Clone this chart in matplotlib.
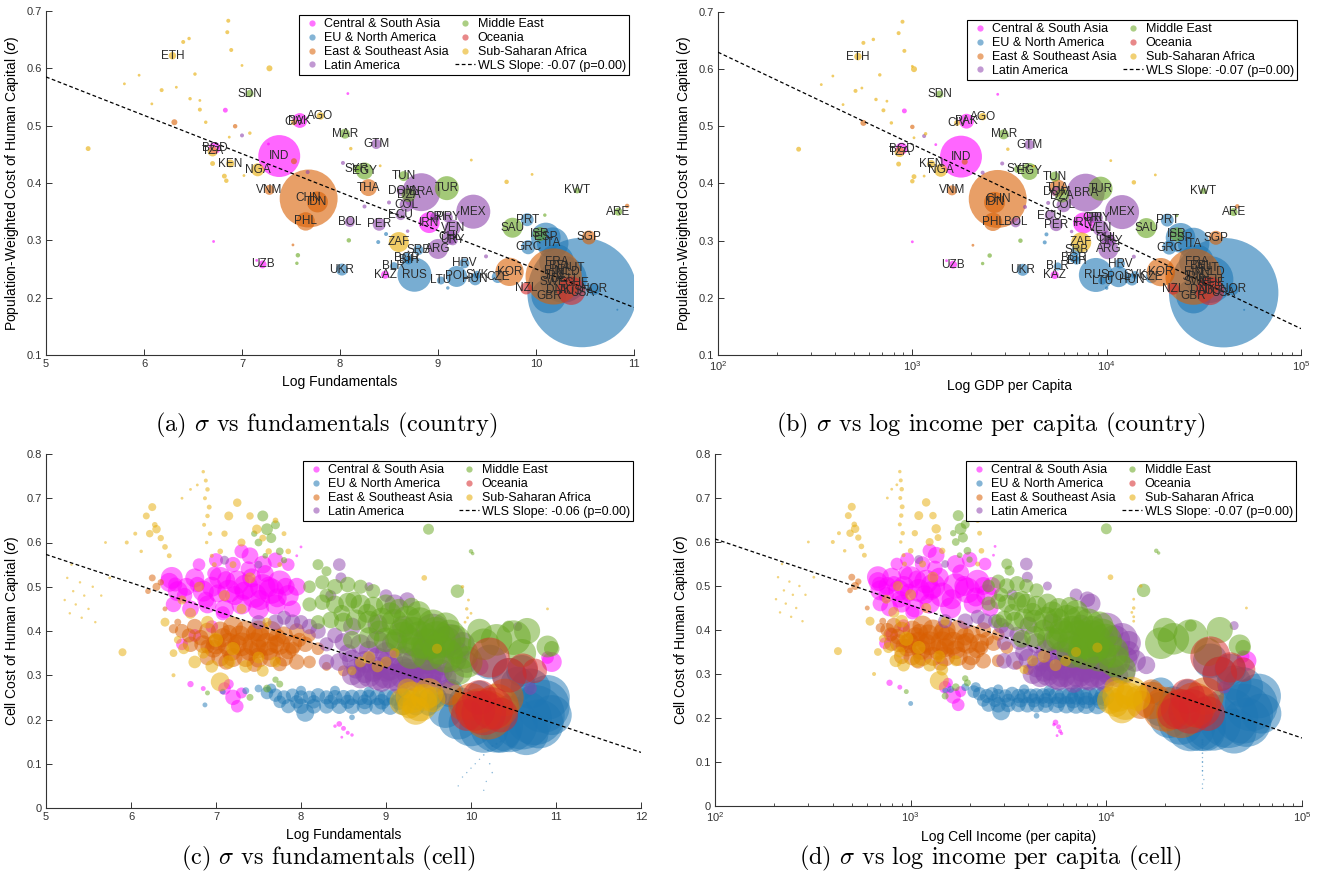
import matplotlib
matplotlib.use("Agg")
import matplotlib.pyplot as plt
from matplotlib.lines import Line2D
from matplotlib.ticker import FormatStrFormatter
import numpy as np

plt.rcParams['font.family'] = ['Liberation Sans', 'DejaVu Sans']

REGIONS = ["Central & South Asia", "EU & North America", "East & Southeast Asia",
           "Latin America", "Middle East", "Oceania", "Sub-Saharan Africa"]
REGION_COLORS = ["#ff00ff", "#1f77b4", "#d95f02", "#8e44ad", "#66a61e", "#d62728", "#e6ab02"]

# ---------------- country level data: (code, log fundamentals, GDP per capita, sigma, weight)
countries_csa = [("PAK", 7.59, 1900, 0.509, 55), ("BGD", 6.72, 880, 0.461, 36), ("IND", 7.38, 1780, 0.447, 440),
                 ("IRN", 8.91, 7600, 0.331, 110), ("KAZ", 8.46, 5400, 0.240, 16), ("UZB", 7.21, 1620, 0.258, 16)]
countries_euna = [("PRT", 9.91, 20500, 0.336, 42), ("ESP", 10.10, 24000, 0.305, 220), ("SRB", 8.80, 7000, 0.283, 25),
                  ("BGR", 8.68, 6800, 0.270, 25), ("BIH", 8.70, 7000, 0.265, 16), ("BLR", 8.55, 5600, 0.255, 16),
                  ("RUS", 8.76, 8800, 0.240, 290), ("UKR", 8.02, 3700, 0.249, 36), ("HRV", 9.27, 11700, 0.260, 25),
                  ("LTU", 9.03, 9500, 0.230, 16), ("POL", 9.19, 11500, 0.237, 110), ("SVK", 9.40, 14000, 0.240, 16),
                  ("HUN", 9.38, 13500, 0.232, 36), ("CZE", 9.61, 17000, 0.236, 36), ("GRC", 9.92, 21000, 0.288, 50),
                  ("ITA", 10.17, 28000, 0.295, 250), ("FRA", 10.21, 29000, 0.263, 300), ("BEL", 10.25, 30500, 0.255, 49),
                  ("AUT", 10.38, 33000, 0.252, 49), ("FIN", 10.18, 28000, 0.246, 36), ("NLD", 10.32, 35000, 0.245, 100),
                  ("DEU", 10.28, 34000, 0.232, 550), ("SWE", 10.17, 29000, 0.228, 64), ("CHE", 10.42, 35000, 0.226, 49),
                  ("DNK", 10.23, 31000, 0.213, 36), ("USA", 10.47, 40000, 0.209, 3000), ("NOR", 10.59, 44500, 0.215, 36),
                  ("GBR", 10.13, 28000, 0.203, 300)]
countries_esa = [("VNM", 7.28, 1600, 0.388, 25), ("CHN", 7.68, 2750, 0.373, 840), ("IDN", 7.77, 2650, 0.367, 110),
                 ("PHL", 7.65, 2600, 0.333, 85), ("THA", 8.29, 5600, 0.392, 72), ("SGP", 10.54, 36500, 0.305, 49),
                 ("KOR", 9.73, 19000, 0.245, 200), ("JPN", 10.18, 28000, 0.237, 790)]
countries_lat = [("GTM", 8.37, 4000, 0.468, 25), ("DOM", 8.63, 5500, 0.386, 25), ("BRA", 8.83, 7800, 0.384, 360),
                 ("COL", 8.68, 6000, 0.362, 49), ("ECU", 8.62, 5100, 0.344, 25), ("MEX", 9.36, 12000, 0.350, 290),
                 ("CRI", 8.97, 8500, 0.340, 25), ("PRY", 9.10, 9000, 0.340, 25), ("VEN", 9.15, 9300, 0.322, 64),
                 ("BOL", 8.10, 3400, 0.332, 25), ("PER", 8.40, 5500, 0.328, 42), ("ARG", 9.00, 10200, 0.285, 100),
                 ("CHL", 9.12, 10000, 0.305, 49), ("URY", 9.15, 10500, 0.300, 25)]
countries_me = [("SDN", 7.08, 1380, 0.556, 14), ("MAR", 8.05, 2950, 0.486, 25), ("SYR", 8.17, 3500, 0.425, 16),
                ("EGY", 8.25, 4000, 0.421, 72), ("TUN", 8.65, 5400, 0.412, 25), ("DZA", 8.70, 5900, 0.379, 49),
                ("TUR", 9.09, 9300, 0.391, 144), ("SAU", 9.76, 16000, 0.322, 100), ("ISR", 10.04, 23000, 0.311, 49),
                ("KWT", 10.42, 31500, 0.387, 9), ("ARE", 10.84, 45000, 0.350, 16)]
countries_oce = [("NZL", 9.90, 22000, 0.216, 36), ("AUS", 10.36, 34000, 0.212, 200)]
countries_ssa = [("ETH", 6.29, 525, 0.622, 14), ("CIV", 7.53, 1700, 0.506, 9), ("AGO", 7.80, 2300, 0.517, 14),
                 ("TZA", 6.70, 860, 0.455, 25), ("KEN", 6.88, 1250, 0.434, 16), ("NGA", 7.16, 1400, 0.423, 42),
                 ("ZAF", 8.60, 7400, 0.297, 100)]

# small unlabeled countries: (log fundamentals, GDP per capita, sigma, weight)
small_csa = [(6.83, 910, 0.527, 6), (6.71, 1000, 0.298, 2), (8.08, 2750, 0.556, 2), (7.27, 1320, 0.468, 2),
             (7.15, 1500, 0.265, 2)]
small_euna = [(8.47, 4900, 0.311, 4), (8.39, 4800, 0.297, 4), (9.10, 10000, 0.217, 3), (10.83, 51000, 0.179, 1)]
small_esa = [(6.31, 560, 0.506, 9), (6.93, 1000, 0.499, 5), (7.53, 1860, 0.438, 9), (7.52, 2050, 0.292, 2),
             (10.93, 47000, 0.360, 5)]
small_lat = [(7.00, 1150, 0.483, 4), (7.67, 2300, 0.419, 4), (8.03, 2900, 0.435, 4), (8.25, 3800, 0.359, 4),
             (8.50, 5000, 0.366, 4), (8.69, 6600, 0.316, 3), (9.49, 13800, 0.272, 4)]
small_me = [(7.57, 2500, 0.274, 5), (7.56, 2300, 0.260, 3), (8.09, 3600, 0.300, 5), (10.09, 22900, 0.344, 3)]
small_oce = []
small_ssa = [(6.86, 890, 0.683, 4), (6.85, 850, 0.663, 4), (6.40, 560, 0.646, 4), (6.46, 630, 0.652, 3),
             (6.89, 910, 0.632, 4), (7.28, 1020, 0.600, 9), (7.00, 1000, 0.605, 2), (6.52, 680, 0.590, 3),
             (5.95, 390, 0.588, 2), (5.80, 340, 0.573, 2), (6.18, 510, 0.562, 4), (6.33, 550, 0.567, 2),
             (6.47, 650, 0.547, 3), (6.57, 740, 0.544, 2), (6.08, 440, 0.538, 2), (6.57, 710, 0.528, 4),
             (6.63, 780, 0.506, 3), (7.08, 1170, 0.487, 3), (6.87, 1020, 0.480, 2), (5.43, 260, 0.460, 6),
             (6.70, 850, 0.434, 6), (6.82, 1020, 0.412, 6), (6.84, 1000, 0.404, 5), (7.02, 1150, 0.413, 2),
             (8.11, 3100, 0.460, 3), (8.41, 4200, 0.430, 2), (9.34, 10500, 0.440, 2), (9.70, 13800, 0.402, 5),
             (9.96, 17800, 0.415, 2)]

# ---------------- cell level data: (log fundamentals, cell income per capita, sigma, weight)
cells_csa = [(6.45, 680, 0.51, 90), (6.55, 700, 0.49, 100), (6.65, 760, 0.50, 80), (6.75, 800, 0.52, 90),
             (6.85, 870, 0.49, 110), (6.95, 920, 0.50, 100), (7.05, 1000, 0.52, 120), (7.15, 1100, 0.49, 130),
             (7.25, 1200, 0.51, 140), (7.35, 1300, 0.50, 150), (7.45, 1450, 0.48, 150), (7.55, 1700, 0.50, 160),
             (7.65, 1950, 0.49, 160), (7.75, 2200, 0.51, 140), (7.85, 2450, 0.48, 110), (7.95, 2600, 0.50, 80),
             (6.50, 700, 0.46, 60), (6.70, 780, 0.45, 70), (6.90, 900, 0.46, 80), (7.10, 1050, 0.45, 90),
             (7.30, 1250, 0.46, 100), (7.50, 1600, 0.45, 110), (7.70, 2100, 0.46, 100), (7.90, 2550, 0.45, 70),
             (6.80, 850, 0.55, 40), (7.00, 960, 0.56, 50), (7.20, 1150, 0.55, 60), (7.40, 1350, 0.57, 70),
             (7.55, 1700, 0.55, 80), (7.70, 2000, 0.56, 60), (7.85, 2400, 0.55, 40), (6.48, 680, 0.52, 120),
             (6.52, 690, 0.505, 50), (6.63, 750, 0.48, 60), (6.78, 820, 0.505, 60), (6.88, 880, 0.47, 70),
             (7.02, 980, 0.485, 80), (7.12, 1080, 0.515, 80), (7.22, 1180, 0.48, 90), (7.33, 1280, 0.49, 90),
             (7.42, 1400, 0.52, 90), (7.52, 1620, 0.47, 100), (7.62, 1880, 0.50, 100), (7.72, 2150, 0.475, 90),
             (7.82, 2350, 0.50, 80), (7.38, 1330, 0.54, 60), (7.58, 1800, 0.53, 70), (7.08, 1020, 0.44, 50),
             (6.98, 940, 0.53, 50),
             (6.95, 920, 0.41, 40), (6.75, 800, 0.39, 40), (6.60, 740, 0.37, 35), (7.30, 1250, 0.58, 50),
             (7.10, 1500, 0.27, 40), (7.20, 1650, 0.25, 60), (7.25, 1750, 0.23, 40), (7.30, 1800, 0.26, 30),
             (7.15, 1550, 0.28, 25), (6.70, 780, 0.28, 10), (6.85, 880, 0.27, 6),
             (8.45, 5500, 0.19, 8), (8.50, 5700, 0.18, 6), (8.55, 5800, 0.17, 4), (8.40, 5400, 0.185, 3),
             (8.60, 5900, 0.165, 3), (8.48, 5600, 0.16, 2), (10.95, 52000, 0.33, 100), (10.90, 50000, 0.34, 40),
             (8.00, 2700, 0.59, 2), (7.95, 2650, 0.57, 2)]
cells_euna = [(7.60, 2100, 0.26, 40), (7.70, 2250, 0.255, 45), (7.80, 2450, 0.25, 50), (7.90, 2600, 0.255, 45),
              (8.00, 2800, 0.25, 50), (8.10, 3050, 0.25, 45), (8.20, 3300, 0.255, 50), (8.30, 3550, 0.25, 50),
              (8.40, 3800, 0.25, 55), (8.50, 4100, 0.25, 55), (8.60, 4400, 0.25, 60), (8.70, 4750, 0.25, 60),
              (8.80, 5100, 0.25, 60), (8.90, 5550, 0.25, 65), (9.00, 6000, 0.25, 70), (9.10, 6500, 0.25, 70),
              (9.20, 7000, 0.25, 75), (9.30, 7600, 0.25, 80), (9.40, 8200, 0.25, 85), (9.50, 9000, 0.25, 90),
              (9.60, 9800, 0.25, 100),
              (7.85, 2500, 0.23, 50), (8.00, 2800, 0.23, 60), (8.15, 3150, 0.23, 55), (8.30, 3550, 0.23, 55),
              (8.45, 3950, 0.23, 60), (8.60, 4400, 0.23, 60), (8.75, 4900, 0.23, 65), (8.90, 5550, 0.23, 70),
              (9.05, 6250, 0.23, 75), (9.20, 7000, 0.23, 80), (9.35, 7900, 0.23, 85), (9.50, 9000, 0.23, 90),
              (7.75, 2350, 0.24, 40), (7.95, 2700, 0.24, 45), (8.15, 3150, 0.24, 45), (8.35, 3650, 0.24, 50),
              (8.55, 4250, 0.24, 50), (8.75, 4900, 0.24, 55), (8.95, 5750, 0.24, 60), (9.15, 6750, 0.24, 65),
              (9.35, 7900, 0.24, 70), (9.55, 9400, 0.24, 80),
              (8.00, 2800, 0.265, 25), (8.40, 3800, 0.265, 25), (8.80, 5100, 0.262, 30), (9.20, 7000, 0.262, 35),
              (8.05, 2900, 0.215, 80), (7.65, 2150, 0.27, 25), (7.50, 1900, 0.27, 15), (7.08, 1500, 0.263, 8),
              (6.87, 1000, 0.233, 6), (8.60, 4400, 0.205, 8), (7.35, 1600, 0.265, 12),
              (9.70, 19000, 0.22, 300), (9.85, 21000, 0.20, 400), (10.00, 24000, 0.19, 500), (10.15, 27000, 0.18, 600),
              (10.30, 30000, 0.185, 700), (10.45, 35000, 0.19, 800), (10.60, 42000, 0.20, 900),
              (10.75, 50000, 0.21, 900), (10.85, 55000, 0.23, 700), (10.90, 60000, 0.25, 500),
              (10.70, 50000, 0.27, 400), (10.55, 45000, 0.28, 300), (10.80, 52000, 0.19, 600),
              (9.90, 22000, 0.24, 200), (10.10, 26000, 0.26, 150), (9.75, 19000, 0.26, 200),
              (10.95, 62000, 0.21, 400), (10.65, 45000, 0.17, 500), (10.35, 32000, 0.17, 400),
              (10.22, 34000, 0.33, 300), (10.60, 43000, 0.31, 250), (10.45, 38000, 0.30, 300),
              (9.85, 31000, 0.05, 0.5), (9.90, 31000, 0.07, 0.5), (9.95, 31000, 0.08, 0.5), (10.00, 31000, 0.09, 0.5),
              (10.05, 31000, 0.10, 0.5), (10.10, 31000, 0.11, 0.5), (10.15, 31000, 0.12, 0.7),
              (10.20, 31000, 0.13, 0.7), (10.25, 31000, 0.14, 0.8), (10.30, 31000, 0.145, 1), (10.35, 31000, 0.15, 1),
              (10.25, 31000, 0.08, 0.6), (10.22, 31000, 0.10, 0.6), (10.15, 31000, 0.04, 0.5),
              (10.18, 31500, 0.06, 0.5)]
cells_esa = [(6.60, 760, 0.40, 50), (6.75, 820, 0.41, 60), (6.90, 900, 0.40, 70), (7.05, 1020, 0.40, 90),
             (7.20, 1150, 0.41, 100), (7.35, 1300, 0.40, 110), (7.50, 1500, 0.40, 110), (7.65, 1750, 0.40, 100),
             (7.80, 2050, 0.39, 80), (7.95, 2350, 0.40, 60), (8.10, 2800, 0.39, 40),
             (6.70, 800, 0.37, 60), (6.85, 870, 0.37, 80), (7.00, 980, 0.37, 100), (7.15, 1100, 0.37, 130),
             (7.30, 1250, 0.37, 140), (7.45, 1450, 0.37, 140), (7.60, 1650, 0.37, 130), (7.75, 1950, 0.37, 110),
             (7.90, 2250, 0.37, 90), (8.05, 2650, 0.37, 60), (8.20, 3100, 0.36, 40),
             (6.90, 900, 0.34, 60), (7.05, 1020, 0.34, 80), (7.20, 1150, 0.34, 90), (7.35, 1300, 0.34, 90),
             (7.50, 1500, 0.34, 100), (7.65, 1750, 0.34, 90), (7.80, 2050, 0.34, 80), (7.95, 2350, 0.33, 60),
             (8.10, 2800, 0.33, 40),
             (6.68, 790, 0.39, 50), (6.82, 860, 0.385, 60), (6.97, 960, 0.36, 80), (7.08, 1060, 0.385, 90),
             (7.18, 1130, 0.355, 100), (7.28, 1230, 0.39, 100), (7.40, 1380, 0.355, 100), (7.52, 1530, 0.385, 100),
             (7.62, 1700, 0.355, 90), (7.72, 1900, 0.385, 80), (7.85, 2180, 0.355, 70), (7.98, 2450, 0.38, 50),
             (7.12, 1090, 0.33, 60), (7.45, 1420, 0.325, 60), (7.75, 1980, 0.325, 50),
             (7.00, 990, 0.375, 70), (7.25, 1200, 0.37, 90), (7.50, 1500, 0.36, 90), (7.70, 1850, 0.37, 80),
             (7.15, 1110, 0.395, 70), (7.45, 1440, 0.395, 70), (6.90, 910, 0.365, 50), (7.90, 2300, 0.36, 50),
             (6.25, 500, 0.52, 12), (6.30, 520, 0.50, 16), (6.35, 540, 0.51, 10), (6.20, 490, 0.49, 8),
             (6.50, 700, 0.405, 22), (6.55, 720, 0.42, 12), (6.40, 600, 0.45, 6),
             (8.50, 4000, 0.31, 30), (8.70, 4800, 0.32, 25), (8.90, 5600, 0.30, 20), (9.10, 6800, 0.31, 20),
             (8.30, 3500, 0.32, 20),
             (10.00, 17000, 0.24, 350), (10.10, 20000, 0.22, 500), (10.20, 24000, 0.21, 600),
             (10.30, 28000, 0.23, 500), (10.40, 32000, 0.25, 350), (9.90, 15000, 0.23, 200), (9.75, 17000, 0.26, 150)]
cells_lat = [(7.50, 1500, 0.42, 50), (7.70, 1900, 0.42, 60), (7.90, 2400, 0.42, 60), (8.10, 2900, 0.41, 60),
             (7.80, 2200, 0.43, 50), (8.00, 2700, 0.42, 50), (8.20, 3100, 0.40, 60), (8.40, 3500, 0.39, 60),
             (8.60, 4200, 0.30, 100), (8.70, 4600, 0.295, 120), (8.80, 5000, 0.30, 140), (8.90, 5500, 0.295, 160),
             (9.00, 6000, 0.30, 180), (9.10, 6600, 0.295, 180), (9.20, 7200, 0.30, 180), (9.30, 7900, 0.295, 180),
             (9.40, 8700, 0.30, 180), (9.50, 9500, 0.295, 160), (9.60, 10400, 0.30, 140), (9.70, 11400, 0.295, 120),
             (9.80, 12500, 0.30, 100),
             (8.65, 4400, 0.315, 100), (8.85, 5200, 0.31, 120), (9.05, 6200, 0.315, 140), (9.25, 7500, 0.31, 150),
             (9.45, 9000, 0.315, 150), (9.65, 10800, 0.31, 130), (8.95, 5700, 0.285, 100), (9.15, 6800, 0.28, 100),
             (9.35, 8200, 0.285, 100), (9.55, 9800, 0.28, 90),
             (8.75, 4800, 0.305, 100), (9.00, 6000, 0.31, 120), (9.30, 8000, 0.305, 120), (9.55, 9900, 0.305, 110),
             (8.90, 5500, 0.32, 90), (9.20, 7300, 0.32, 100), (9.45, 9100, 0.325, 100),
             (8.30, 3000, 0.33, 60), (8.45, 3400, 0.33, 80), (8.60, 4000, 0.335, 100), (8.75, 4700, 0.33, 120),
             (8.90, 5500, 0.335, 150), (9.05, 6300, 0.33, 170), (9.20, 7200, 0.335, 180), (9.35, 8200, 0.33, 200),
             (9.50, 9500, 0.335, 200), (9.65, 11000, 0.33, 180), (9.80, 12500, 0.335, 150), (9.95, 14000, 0.33, 120),
             (10.10, 16000, 0.32, 80),
             (8.55, 3800, 0.35, 80), (8.80, 4900, 0.355, 100), (9.00, 5900, 0.35, 120), (9.45, 9000, 0.355, 150),
             (9.85, 13000, 0.35, 120),
             (8.30, 3000, 0.37, 50), (8.50, 3600, 0.375, 80), (8.70, 4400, 0.37, 100), (8.90, 5400, 0.375, 130),
             (9.10, 6500, 0.37, 160), (9.30, 7800, 0.375, 200), (9.50, 9300, 0.37, 250), (9.70, 11000, 0.375, 250),
             (9.90, 13000, 0.37, 150),
             (8.60, 4000, 0.41, 80), (8.90, 5300, 0.415, 100), (9.20, 7400, 0.41, 120), (9.55, 10000, 0.40, 300),
             (9.75, 12000, 0.38, 250),
             (8.45, 3900, 0.55, 40), (8.47, 3950, 0.52, 30), (9.10, 8300, 0.46, 100), (9.00, 7000, 0.48, 40),
             (8.80, 5000, 0.50, 20), (7.10, 1100, 0.56, 20), (7.50, 1500, 0.55, 15), (10.70, 40000, 0.27, 40),
             (10.55, 45000, 0.41, 20), (8.35, 3300, 0.48, 30), (9.25, 8000, 0.47, 60)]
cells_me = [(8.10, 2500, 0.50, 40), (8.25, 2800, 0.51, 50), (8.40, 3100, 0.50, 60), (8.55, 3500, 0.505, 60),
            (8.70, 3900, 0.50, 50), (8.85, 4400, 0.49, 50),
            (8.10, 2500, 0.46, 50), (8.25, 2800, 0.465, 60), (8.40, 3100, 0.46, 80), (8.55, 3500, 0.465, 90),
            (8.70, 3900, 0.46, 100), (8.85, 4400, 0.455, 100), (9.00, 5000, 0.46, 100), (9.15, 5700, 0.45, 100),
            (9.30, 6500, 0.455, 80),
            (8.20, 2800, 0.42, 50), (8.35, 3000, 0.425, 70), (8.50, 3400, 0.42, 90), (8.65, 3800, 0.425, 110),
            (8.80, 4300, 0.42, 130), (8.95, 4900, 0.425, 150), (9.10, 5600, 0.42, 170), (9.25, 6300, 0.425, 200),
            (9.40, 7200, 0.42, 220), (9.55, 8100, 0.415, 220), (9.70, 9200, 0.41, 200),
            (8.60, 3700, 0.38, 80), (8.80, 4300, 0.385, 110), (9.00, 5100, 0.38, 150), (9.20, 6100, 0.385, 250),
            (9.40, 7200, 0.38, 350), (9.60, 8400, 0.38, 350), (9.80, 9800, 0.375, 300),
            (9.30, 6700, 0.35, 250), (9.50, 7800, 0.35, 300), (9.70, 9200, 0.345, 300), (9.90, 10800, 0.35, 250),
            (9.95, 11000, 0.33, 250), (9.85, 12000, 0.31, 200),
            (8.30, 2900, 0.48, 50), (8.48, 3300, 0.44, 70), (8.62, 3700, 0.47, 70), (8.78, 4200, 0.44, 90),
            (8.92, 4800, 0.40, 110), (9.05, 5300, 0.44, 120), (9.18, 5900, 0.40, 150), (9.32, 6700, 0.40, 200),
            (9.48, 7700, 0.37, 250), (9.62, 8600, 0.36, 250), (9.75, 9500, 0.39, 250), (9.38, 7000, 0.44, 150),
            (9.58, 8400, 0.40, 200), (9.12, 5600, 0.38, 120),
            (7.55, 1750, 0.66, 30), (7.60, 1800, 0.63, 35), (7.65, 1850, 0.61, 25), (7.70, 1900, 0.64, 20),
            (7.50, 1700, 0.60, 15), (7.75, 1950, 0.58, 15), (7.45, 1650, 0.62, 10), (7.80, 2000, 0.56, 10),
            (7.58, 1780, 0.57, 8),
            (9.50, 10000, 0.63, 30), (9.84, 15500, 0.49, 45), (10.00, 18000, 0.58, 5), (10.02, 18500, 0.575, 3),
            (8.20, 3100, 0.55, 30), (8.30, 3200, 0.535, 25),
            (10.66, 38000, 0.40, 170), (10.10, 20000, 0.40, 150), (10.44, 27000, 0.41, 36), (10.90, 48000, 0.365, 120),
            (10.95, 50000, 0.36, 60), (10.30, 22000, 0.38, 250), (10.50, 27000, 0.385, 300),
            (10.60, 33000, 0.35, 200), (10.15, 19000, 0.37, 250),
            (7.60, 1700, 0.27, 15), (7.40, 1500, 0.25, 12), (7.70, 1900, 0.29, 10), (6.90, 950, 0.26, 6),
            (7.75, 1950, 0.28, 12)]
cells_oce = [(10.05, 24000, 0.22, 400), (10.15, 27000, 0.215, 500), (10.25, 30000, 0.225, 450),
             (10.35, 33000, 0.21, 300), (9.95, 22000, 0.21, 250), (10.10, 26000, 0.25, 300),
             (10.22, 34000, 0.34, 400), (10.61, 43000, 0.315, 230), (10.45, 38000, 0.30, 300),
             (10.75, 50000, 0.31, 150)]
cells_ssa = [(5.22, 205, 0.47, 1.5), (5.25, 210, 0.52, 1.5), (5.28, 215, 0.44, 1.5), (5.32, 225, 0.49, 1.5),
             (5.35, 230, 0.46, 1.5), (5.40, 240, 0.51, 1.5), (5.42, 245, 0.43, 1.5), (5.45, 250, 0.48, 1.5),
             (5.50, 260, 0.45, 1.5), (5.55, 270, 0.50, 1.5), (5.58, 280, 0.42, 1.5), (5.30, 220, 0.55, 1.5),
             (5.70, 300, 0.60, 2), (5.65, 290, 0.48, 1.5), (5.75, 320, 0.52, 2),
             (6.18, 480, 0.66, 12), (6.25, 500, 0.68, 16), (6.22, 490, 0.62, 14), (6.30, 520, 0.63, 18),
             (6.35, 540, 0.61, 10), (6.28, 515, 0.64, 8), (6.40, 560, 0.59, 8), (6.05, 430, 0.62, 4),
             (5.95, 400, 0.60, 4), (6.12, 460, 0.58, 3), (6.45, 580, 0.57, 6),
             (6.85, 880, 0.76, 3), (6.88, 890, 0.74, 4), (6.90, 900, 0.72, 5), (6.87, 885, 0.70, 4),
             (6.92, 905, 0.68, 6), (6.90, 895, 0.66, 5), (6.86, 880, 0.64, 4), (6.93, 910, 0.62, 5),
             (6.89, 890, 0.60, 3), (6.95, 920, 0.57, 4), (6.78, 850, 0.73, 2), (6.70, 800, 0.72, 2),
             (6.60, 760, 0.70, 2), (6.98, 930, 0.55, 6),
             (7.15, 1100, 0.66, 20), (7.25, 1200, 0.69, 18), (7.40, 1300, 0.66, 14), (7.48, 1350, 0.63, 22),
             (7.55, 1380, 0.61, 12), (7.30, 1250, 0.60, 16), (7.10, 1050, 0.62, 10), (7.62, 1450, 0.58, 10),
             (7.70, 2200, 0.65, 8), (7.80, 2250, 0.62, 6), (7.85, 2300, 0.58, 8), (7.75, 2200, 0.55, 6),
             (7.05, 1000, 0.58, 8), (7.20, 1150, 0.55, 12),
             (6.60, 750, 0.47, 20), (6.70, 820, 0.44, 30), (6.80, 860, 0.50, 25), (6.90, 900, 0.42, 40),
             (7.00, 950, 0.38, 50), (7.10, 1000, 0.48, 30), (7.20, 1100, 0.36, 45), (7.30, 1200, 0.45, 25),
             (7.40, 1300, 0.52, 30), (7.50, 1400, 0.34, 35), (6.55, 720, 0.38, 15), (6.85, 880, 0.35, 30),
             (7.60, 1500, 0.42, 20), (6.95, 920, 0.32, 40), (7.70, 1700, 0.33, 30), (6.40, 620, 0.42, 20),
             (6.50, 680, 0.35, 15), (6.75, 840, 0.33, 40), (7.15, 1080, 0.33, 45), (7.35, 1250, 0.32, 40),
             (7.55, 1450, 0.31, 35), (6.62, 770, 0.36, 30),
             (7.05, 1400, 0.285, 90), (5.90, 425, 0.352, 16), (6.50, 650, 0.30, 4),
             (9.20, 10500, 0.24, 180), (9.30, 11500, 0.25, 250), (9.40, 12500, 0.235, 300), (9.50, 13500, 0.26, 220),
             (9.35, 12000, 0.22, 200), (9.55, 14500, 0.245, 160), (9.25, 11000, 0.27, 100),
             (9.28, 11200, 0.23, 150), (9.45, 13000, 0.25, 180),
             (8.70, 4200, 0.33, 30), (8.80, 4800, 0.34, 40), (8.90, 5500, 0.32, 35), (9.00, 6200, 0.33, 30),
             (9.10, 7000, 0.35, 25), (8.60, 3800, 0.31, 20), (9.60, 9000, 0.36, 25),
             (9.95, 13800, 0.45, 3), (9.97, 13800, 0.47, 2), (9.96, 13800, 0.43, 2), (9.93, 13800, 0.42, 2),
             (9.45, 10500, 0.52, 8), (9.90, 15000, 0.50, 3), (10.00, 13500, 0.44, 2), (10.90, 52000, 0.45, 2)]

country_groups = [countries_csa, countries_euna, countries_esa, countries_lat, countries_me, countries_oce, countries_ssa]
small_groups = [small_csa, small_euna, small_esa, small_lat, small_me, small_oce, small_ssa]
cell_groups = [cells_csa, cells_euna, cells_esa, cells_lat, cells_me, cells_oce, cells_ssa]

# WLS fitted lines: (intercept, slope)  (b, d in natural log of income)
fit_a = (0.920, -0.067)
fit_b = (0.952, -0.070)
fit_c = (0.8925, -0.0639)
fit_d = (0.9086, -0.0655)
fit_labels = ["WLS Slope: -0.07 (p=0.00)", "WLS Slope: -0.07 (p=0.00)",
              "WLS Slope: -0.06 (p=0.00)", "WLS Slope: -0.07 (p=0.00)"]
captions = [r"(a) $\sigma$ vs fundamentals (country)", r"(b) $\sigma$ vs log income per capita (country)",
            r"(c) $\sigma$ vs fundamentals (cell)", r"(d) $\sigma$ vs log income per capita (cell)"]

W, H = 1325, 886
fig = plt.figure(figsize=(W / 100, H / 100), dpi=100)


def px_axes(x0, x1, ytop, ybot):
    return fig.add_axes([x0 / W, 1 - ybot / H, (x1 - x0) / W, (ybot - ytop) / H])


axA = px_axes(46, 634, 11, 355)
axB = px_axes(718, 1301, 12, 355)
axC = px_axes(46, 641, 454, 808)
axD = px_axes(715, 1302, 454, 806)

SCALE = 2.07  # weight (px^2) -> points^2


def style(ax, logx=False):
    for s in ['top', 'right']:
        ax.spines[s].set_visible(False)
    for s in ['left', 'bottom']:
        ax.spines[s].set_color('#333333')
        ax.spines[s].set_linewidth(0.8)
    ax.tick_params(direction='in', length=4, width=0.7, colors='#333333', labelsize=8, pad=3)
    if logx:
        ax.set_xscale('log')
        ax.tick_params(which='minor', direction='in', length=2.5, width=0.6, colors='#333333')
    ax.yaxis.set_major_formatter(FormatStrFormatter('%g'))


def draw_countries(ax, use_gdp):
    idx = 2 if use_gdp else 1
    for grp, sm, col in zip(country_groups, small_groups, REGION_COLORS):
        if sm:
            xs = [p[1] if use_gdp else p[0] for p in sm]
            ax.scatter(xs, [p[2] for p in sm], s=[SCALE * p[3] for p in sm], color=col, alpha=0.6,
                       linewidths=0, zorder=2)
        ax.scatter([c[idx] for c in grp], [c[3] for c in grp], s=[SCALE * c[4] for c in grp], color=col,
                   alpha=0.6, linewidths=0, zorder=2)
    for grp in country_groups:
        for c in grp:
            ax.text(c[idx], c[3], c[0], fontsize=8.5, color='#2b2b2b', ha='center', va='center', zorder=4)


def draw_cells(ax, use_inc):
    for grp, col in zip(cell_groups, REGION_COLORS):
        xs = [p[1] if use_inc else p[0] for p in grp]
        ax.scatter(xs, [p[2] for p in grp], s=[SCALE * p[3] for p in grp], color=col, alpha=0.5,
                   linewidths=0, zorder=2)


def draw_fit(ax, fit, xlim, logx):
    if logx:
        xs = np.logspace(np.log10(xlim[0]), np.log10(xlim[1]), 50)
        ys = fit[0] + fit[1] * np.log(xs)
    else:
        xs = np.linspace(xlim[0], xlim[1], 50)
        ys = fit[0] + fit[1] * xs
    ax.plot(xs, ys, ls=(0, (3, 2)), color='black', lw=0.9, zorder=3)


def legend(ax, label, anchor):
    handles = [Line2D([], [], marker='o', ls='none', color=c, alpha=0.55, markersize=4.5, mec='none')
               for c in REGION_COLORS]
    labels = list(REGIONS)
    handles.append(Line2D([], [], ls=(0, (3, 2)), color='black', lw=0.9))
    labels.append(label)
    leg = ax.legend(handles, labels, ncol=2, loc='upper right', bbox_to_anchor=(anchor[0] / W, 1 - anchor[1] / H),
                    bbox_transform=fig.transFigure, fontsize=9, frameon=True, fancybox=False, framealpha=1,
                    edgecolor='black', borderpad=0.25, labelspacing=0.15, handlelength=1.6, handletextpad=0.2,
                    columnspacing=0.5, borderaxespad=0)
    leg.get_frame().set_linewidth(0.8)
    leg.set_zorder(10)


# (a)
style(axA)
draw_countries(axA, False)
axA.set_xlim(5, 11)
axA.set_ylim(0.1, 0.7)
draw_fit(axA, fit_a, (5, 11), False)
axA.set_xlabel("Log Fundamentals", fontsize=10)
axA.set_ylabel(r"Population-Weighted Cost of Human Capital ($\sigma$)", fontsize=10)
legend(axA, fit_labels[0], (629, 15))

# (b)
style(axB, logx=True)
draw_countries(axB, True)
axB.set_xlim(1e2, 1e5)
axB.set_ylim(0.1, 0.7)
draw_fit(axB, fit_b, (1e2, 1e5), True)
axB.set_xlabel("Log GDP per Capita", fontsize=10)
axB.set_ylabel(r"Population-Weighted Cost of Human Capital ($\sigma$)", fontsize=10)
legend(axB, fit_labels[1], (1297, 20))

# (c)
style(axC)
draw_cells(axC, False)
axC.set_xlim(5, 12)
axC.set_ylim(0, 0.8)
draw_fit(axC, fit_c, (5, 12), False)
axC.set_xlabel("Log Fundamentals", fontsize=10)
axC.set_ylabel(r"Cell Cost of Human Capital ($\sigma$)", fontsize=10)
legend(axC, fit_labels[2], (633, 461))

# (d)
style(axD, logx=True)
draw_cells(axD, True)
axD.set_xlim(1e2, 1e5)
axD.set_ylim(0, 0.8)
draw_fit(axD, fit_d, (1e2, 1e5), True)
axD.set_xlabel("Log Cell Income (per capita)", fontsize=10)
axD.set_ylabel(r"Cell Cost of Human Capital ($\sigma$)", fontsize=10)
legend(axD, fit_labels[3], (1296, 461))

cap_pos = [(326, 425), (991, 425), (328, 858), (990, 858)]
for cap, (cx, cy) in zip(captions, cap_pos):
    fig.text(cx / W, 1 - cy / H, cap, family='cmr10', math_fontfamily='cm', fontsize=17.5, ha='center',
             va='center')

fig.savefig("out.png", dpi=100)
